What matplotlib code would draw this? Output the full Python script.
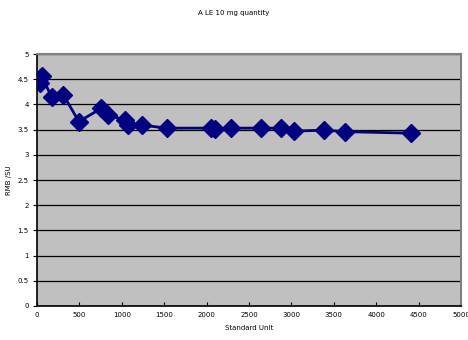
import matplotlib
matplotlib.use("Agg")
import matplotlib.pyplot as plt

# standard unit vs. RMB per SU
su = [35, 55, 173, 310, 495, 755, 840, 1040, 1075, 1235, 1530,
      2050, 2100, 2290, 2640, 2880, 3030, 3390, 3630, 4410]
rmb = [4.43, 4.56, 4.15, 4.19, 3.66, 3.92, 3.79, 3.69, 3.59, 3.59, 3.53,
       3.53, 3.51, 3.53, 3.53, 3.53, 3.47, 3.49, 3.46, 3.43]

xticks = list(range(0, 5001, 500))
yticks = [0, 0.5, 1, 1.5, 2, 2.5, 3, 3.5, 4, 4.5, 5]

fig = plt.figure(figsize=(4.68, 3.4), dpi=100)
ax = fig.add_axes([0.079, 0.1, 0.906, 0.741])
ax.set_facecolor("#c0c0c0")

ax.plot(su, rmb, color="#000080", lw=2, marker="D", ms=9.5,
        markerfacecolor="#000080", markeredgecolor="#000080", zorder=3)

ax.set_xlim(0, 5000)
ax.set_ylim(0, 5)
ax.set_xticks(xticks)
ax.set_yticks(yticks)
ax.set_yticklabels([f"{v:g}" for v in yticks])
ax.yaxis.grid(True, color="black", lw=0.9)
ax.set_axisbelow(True)

for s in ("top", "right"):
    ax.spines[s].set_color("#808080")
    ax.spines[s].set_linewidth(1.5)
for s in ("left", "bottom"):
    ax.spines[s].set_color("black")
    ax.spines[s].set_linewidth(1.2)

ax.tick_params(axis="x", direction="in", length=3, labelsize=5, pad=4)
ax.tick_params(axis="y", direction="out", length=3, labelsize=5, pad=3)

ax.set_xlabel("Standard Unit", fontsize=5, labelpad=5)
ax.set_ylabel("RMB /SU", fontsize=5, labelpad=4)
fig.text(0.5, 0.962, "A LE 10 mg quantity", ha="center", va="center", fontsize=5)

fig.savefig("out.png", dpi=100)
